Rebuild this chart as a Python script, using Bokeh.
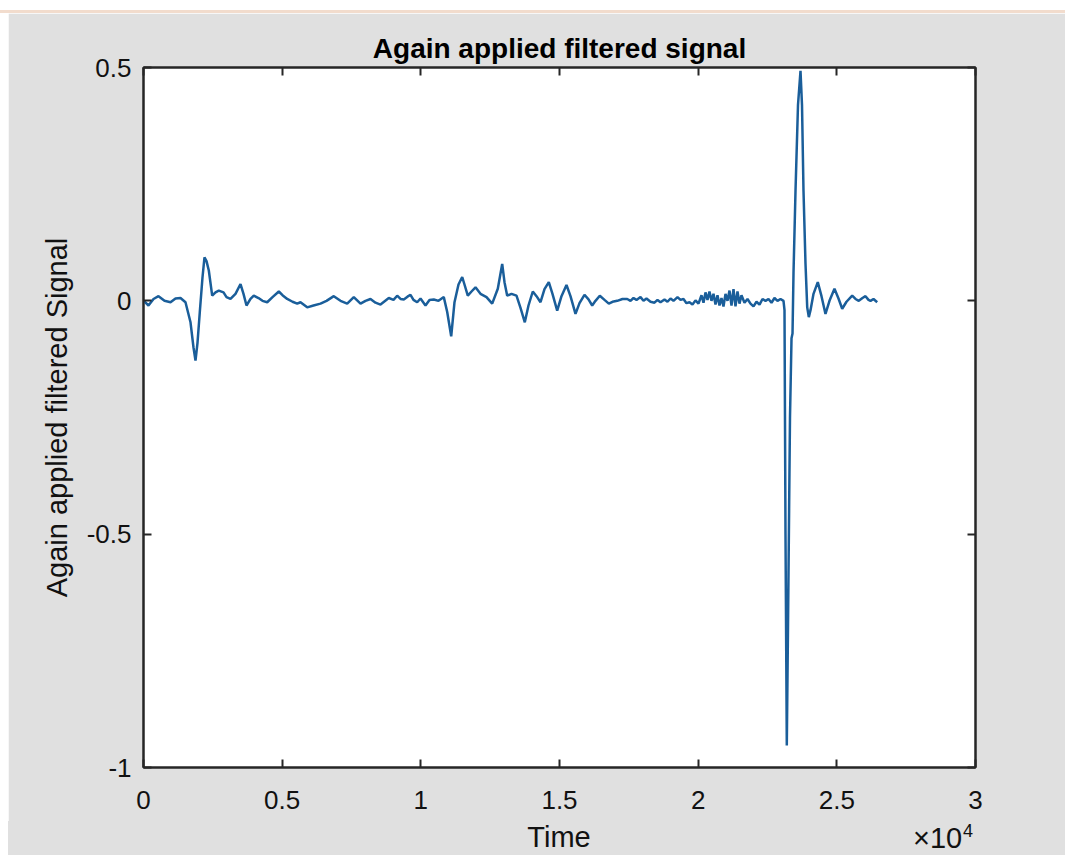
from bokeh.plotting import figure
from bokeh.models import Range1d, LinearAxis, FixedTicker, Spacer, Div
from bokeh.layouts import column, row
from bokeh.embed import file_html
from bokeh.resources import INLINE

# ---- data ----
time = [10, 180, 361, 541, 757, 974, 1154, 1334, 1514, 1695, 1803, 1875, 1947, 2030, 2127, 2199, 2272, 2355,
        2477, 2596, 2715, 2885, 2993, 3137, 3317, 3498, 3606, 3714, 3858, 3977, 4147, 4291, 4460, 4652, 4879,
        5012, 5182, 5373, 5542, 5661, 5903, 6130, 6382, 6599, 6862, 7103, 7345, 7583, 7825, 8005, 8185, 8365,
        8546, 8845, 9014, 9147, 9267, 9386, 9519, 9627, 9735, 9868, 9988, 10168, 10312, 10468, 10637, 10828,
        10951, 11095, 11214, 11358, 11492, 11574, 11693, 11827, 11971, 12151, 12368, 12573, 12775, 12934,
        13017, 13114, 13269, 13449, 13594, 13749, 13882, 14037, 14171, 14315, 14459, 14614, 14747, 14917,
        15072, 15252, 15396, 15577, 15721, 15901, 16046, 16179, 16298, 16453, 16623, 16778, 16911, 17081,
        17272, 17442, 17560, 17668, 17777, 17921, 18029, 18137, 18281, 18425, 18534, 18642, 18786, 18894,
        19002, 19110, 19255, 19363, 19471, 19579, 19687, 19795, 19904, 20012, 20120, 20192, 20264, 20336,
        20408, 20480, 20553, 20625, 20697, 20769, 20841, 20913, 20986, 21058, 21130, 21202, 21274, 21346,
        21418, 21490, 21562, 21670, 21779, 21887, 21995, 22103, 22212, 22320, 22428, 22536, 22644, 22752,
        22860, 22969, 23077, 23113, 23149, 23196, 23239, 23311, 23366, 23402, 23438, 23510, 23600, 23690,
        23744, 23798, 23870, 23932, 23990, 24051, 24159, 24313, 24447, 24591, 24735, 24915, 25060, 25193,
        25348, 25554, 25673, 25792, 25925, 26034, 26142, 26214, 26322, 26455]
signal = [0.0, -0.01, 0.004, 0.01, 0.0, -0.003, 0.005, 0.006, -0.003, -0.046, -0.10, -0.128, -0.09, -0.024,
          0.05, 0.093, 0.085, 0.065, 0.011, 0.018, 0.022, 0.018, 0.008, 0.004, 0.015, 0.036, 0.015, -0.01,
          0.004, 0.011, 0.006, 0.0, -0.003, 0.008, 0.02, 0.012, 0.004, -0.002, -0.006, -0.003, -0.014, -0.01,
          -0.006, 0.0, 0.01, 0.0, -0.006, 0.008, -0.006, 0.0, 0.004, -0.004, -0.008, 0.006, 0.002, 0.011,
          0.004, 0.003, 0.009, 0.013, 0.002, -0.003, 0.005, -0.01, 0.002, 0.003, 0.0, 0.008, -0.024, -0.076,
          -0.003, 0.035, 0.051, 0.035, 0.011, 0.02, 0.029, 0.015, 0.008, -0.006, 0.026, 0.079, 0.04, 0.011,
          0.015, 0.011, -0.015, -0.046, -0.01, 0.02, 0.01, -0.003, 0.025, 0.04, 0.015, -0.021, 0.01, 0.034,
          0.01, -0.028, -0.005, 0.013, 0.003, -0.01, 0.0, 0.011, 0.002, -0.006, -0.002, 0.0, 0.004, 0.004,
          0.0, 0.006, 0.002, 0.008, 0.0, 0.005, -0.002, -0.004, 0.002, -0.003, 0.003, -0.002, 0.005, 0.0,
          0.008, 0.002, 0.004, -0.005, -0.003, -0.008, 0.001, -0.006, 0.012, -0.004, 0.018, 0.002, 0.02, 0.0,
          0.015, -0.008, 0.012, -0.01, 0.006, -0.012, 0.015, 0.0, 0.022, -0.01, 0.025, -0.012, 0.02, -0.006,
          0.012, -0.004, 0.004, -0.006, -0.012, -0.002, -0.008, 0.004, 0.0, 0.004, -0.004, 0.006, 0.0, 0.004,
          0.0, -0.02, -0.5, -0.953, -0.7, -0.25, -0.08, -0.07, 0.06, 0.236, 0.42, 0.493, 0.42, 0.236, 0.08,
          -0.014, -0.035, -0.02, 0.015, 0.04, 0.01, -0.028, 0.0, 0.026, 0.005, -0.017, -0.002, 0.011, 0.004,
          0.0, 0.006, 0.01, 0.002, 0.0, 0.004, -0.003]

x_ticks = [0, 5000, 10000, 15000, 20000, 25000, 30000]
x_tick_labels = ["0", "0.5", "1", "1.5", "2", "2.5", "3"]
y_ticks = [-1, -0.5, 0, 0.5]
y_tick_labels = ["-1", "-0.5", "0", "0.5"]
title_text = "Again applied filtered signal"
x_label = "Time"
y_label = "Again applied filtered Signal"
x_multiplier = ("\u00d710", "4")

BG = "#e0e0e0"
AX = "#262626"
TXT = "#111111"
FONT = "Liberation Sans"

p = figure(width=1057, height=808, output_backend="svg", toolbar_location=None,
           x_range=Range1d(0, 30000), y_range=Range1d(-1, 0.5),
           min_border_left=135, min_border_right=90, min_border_top=54, min_border_bottom=54,
           background_fill_color="white", border_fill_color=BG,
           title=title_text)
p.title.align = "center"
p.title.text_font = FONT
p.title.text_font_size = "28px"
p.title.text_font_style = "bold"
p.title.text_color = "black"
p.title.standoff = 8

p.grid.visible = False
p.outline_line_color = AX
p.outline_line_width = 2

p.line(time, signal, line_color="#1a5e9a", line_width=2.5)

def style(ax, show):
    ax.axis_line_color = AX
    ax.axis_line_width = 2
    ax.major_tick_line_color = AX
    ax.major_tick_line_width = 2
    ax.major_tick_in = 8
    ax.major_tick_out = 0
    ax.minor_tick_line_color = None
    if show:
        ax.major_label_text_font = FONT
        ax.major_label_text_font_size = "26px"
        ax.major_label_text_color = TXT
        ax.axis_label_text_font = FONT
        ax.axis_label_text_font_size = "29px"
        ax.axis_label_text_font_style = "normal"
        ax.axis_label_text_color = TXT
    else:
        ax.major_label_text_color = None
        ax.major_label_text_font_size = "1px"
        ax.major_label_standoff = 0
        ax.axis_label_text_color = None

xa = p.xaxis[0]
xa.ticker = FixedTicker(ticks=x_ticks)
xa.major_label_overrides = {t: l for t, l in zip(x_ticks, x_tick_labels)}
style(xa, True)
xa.major_label_standoff = 23

ya = p.yaxis[0]
ya.ticker = FixedTicker(ticks=y_ticks)
ya.major_label_overrides = {t: l for t, l in zip(y_ticks, y_tick_labels)}
ya.axis_label = y_label
style(ya, True)
ya.major_label_standoff = 12
ya.axis_label_standoff = 11

top = LinearAxis(ticker=FixedTicker(ticks=x_ticks))
style(top, False)
p.add_layout(top, "above")
right = LinearAxis(ticker=FixedTicker(ticks=y_ticks))
style(right, False)
p.add_layout(right, "right")

# bottom strip holding the x-axis label and the x10^4 multiplier
bottom_html = (
    f'<div style="position:relative;width:1057px;height:34px;'
    f'font-family:\'{FONT}\';color:{TXT};">'
    f'<span style="position:absolute;left:451px;top:2px;width:200px;text-align:center;'
    f'font-size:29px;line-height:29px;">{x_label}</span>'
    f'<span style="position:absolute;left:905px;top:3px;font-size:29px;line-height:29px;">{x_multiplier[0]}</span>'
    f'<span style="position:absolute;left:955px;top:1px;font-size:18px;line-height:18px;">{x_multiplier[1]}</span>'
    f'</div>'
)
bottom = Div(text=bottom_html, width=1057, height=34,
             styles={"background-color": BG, "overflow": "hidden", "margin": "0", "padding": "0"})

peach = Spacer(width=1065, height=3, styles={"background-color": "#f2dccd"})
layout = column(Spacer(width=1065, height=10), peach,
                row(Spacer(width=8, height=808), p),
                row(Spacer(width=8, height=34), bottom))

open("out.html", "w").write(file_html(layout, INLINE))
